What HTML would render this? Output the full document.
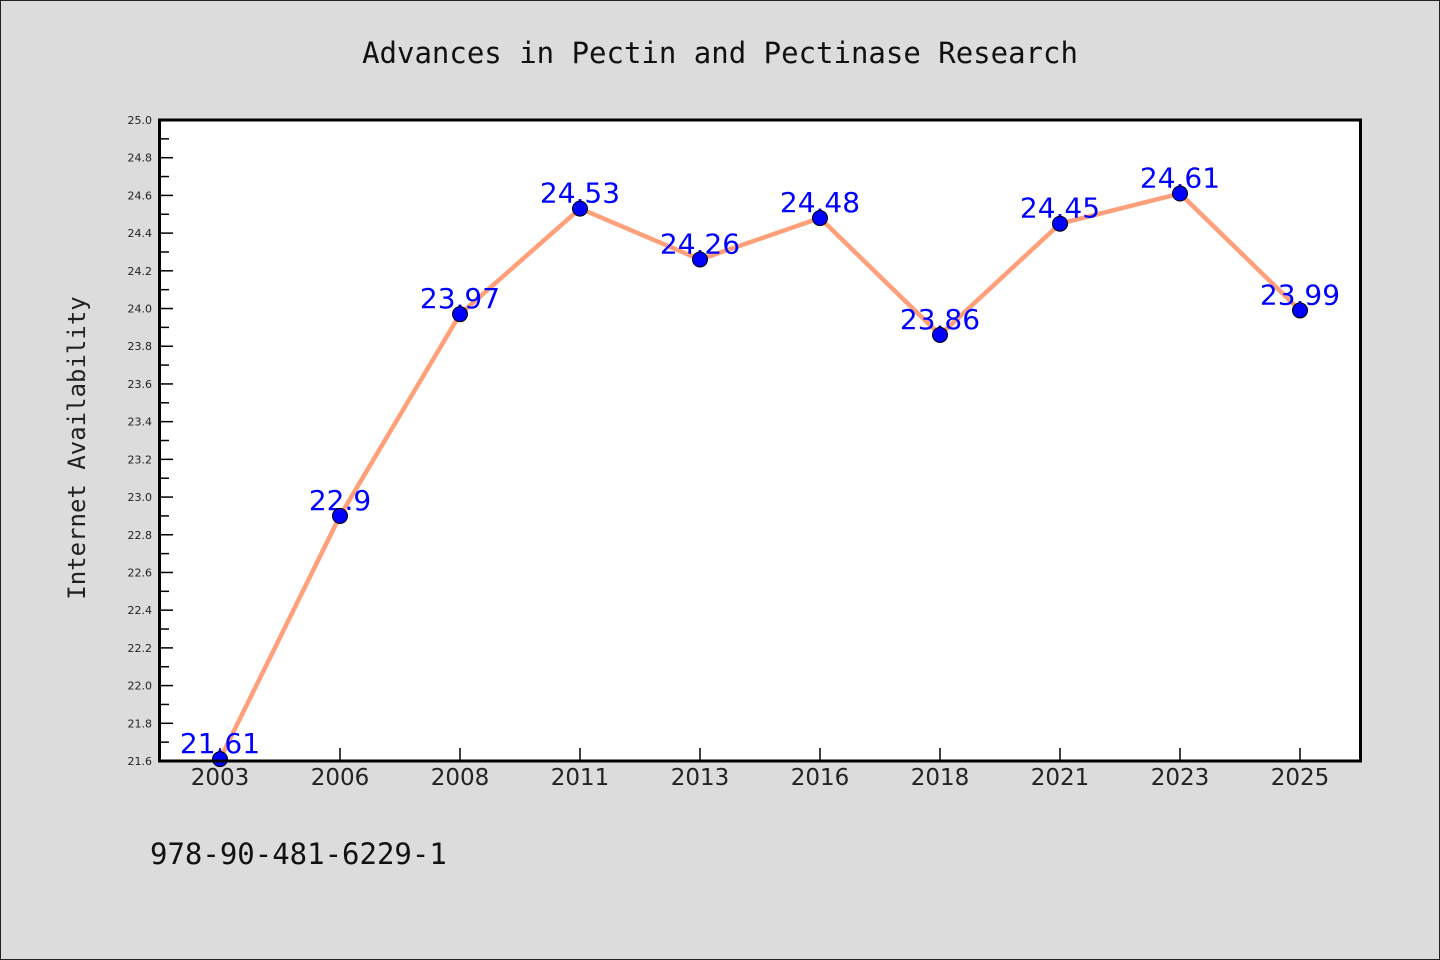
<!DOCTYPE html>
<html><head><meta charset="utf-8"><style>
body{margin:0;background:#dcdcdc;}
svg{display:block;}
</style></head><body>
<svg width="1440" height="960" xmlns="http://www.w3.org/2000/svg">
<rect x="0.5" y="0.5" width="1439" height="959" fill="#dcdcdc" stroke="#222"/>
<text x="720" y="63" text-anchor="middle" font-family="'DejaVu Sans Mono','Liberation Mono',monospace" font-size="29" fill="#111">Advances in Pectin and Pectinase Research</text>
<rect x="159.5" y="120" width="1201" height="641" fill="#fff"/>
<g id="axes"></g>
<g id="series"></g>
<rect x="159.5" y="120" width="1201" height="641" fill="none" stroke="#000" stroke-width="3"/>
<text transform="translate(85,448) rotate(-90)" text-anchor="middle" font-family="'DejaVu Sans Mono','Liberation Mono',monospace" font-size="24" fill="#222">Internet Availability</text>
<text x="150" y="864" font-family="'DejaVu Sans Mono','Liberation Mono',monospace" font-size="29" fill="#111">978-90-481-6229-1</text>
</svg>
<script>
const categories=["2003","2006","2008","2011","2013","2016","2018","2021","2023","2025"];
const values=[21.61,22.9,23.97,24.53,24.26,24.48,23.86,24.45,24.61,23.99];
const valueLabels=["21.61","22.9","23.97","24.53","24.26","24.48","23.86","24.45","24.61","23.99"];
const yTicks=[21.6,21.8,22.0,22.2,22.4,22.6,22.8,23.0,23.2,23.4,23.6,23.8,24.0,24.2,24.4,24.6,24.8,25.0];
const yMin=21.6,yMax=25.0;
const NS="http://www.w3.org/2000/svg";
const L=160,R=1360,T=120,B=761;
function y(v){return B-(v-yMin)/(yMax-yMin)*(B-T);}
function x(i){return 220+i*(1080/(categories.length-1));}
function mk(tag,attrs,parent){const e=document.createElementNS(NS,tag);for(const k in attrs)e.setAttribute(k,attrs[k]);parent.appendChild(e);return e;}
const ax=document.getElementById('axes'),se=document.getElementById('series');
yTicks.forEach((t,i)=>{
  const l=mk('line',{x1:L,x2:L+13,y1:y(t),y2:y(t),stroke:'#000','stroke-width':1.5},ax);
  
  
  const tx=mk('text',{x:152,y:y(t)+4,'text-anchor':'end','font-family':"'DejaVu Sans','Liberation Sans',sans-serif",'font-size':11,fill:'#222'},ax);
  tx.textContent=t.toFixed(1);
  
  
  if(i<yTicks.length-1){
    const m=mk('line',{x1:L,x2:L+9,y1:y(t+0.1),y2:y(t+0.1),stroke:'#000','stroke-width':1.5},ax);
    
    
  }
});
categories.forEach((c,i)=>{
  const l=mk('line',{x1:x(i),x2:x(i),y1:B,y2:B-13,stroke:'#000','stroke-width':1.5},ax);
  
  
  const tx=mk('text',{x:x(i),y:785,'text-anchor':'middle','font-family':"'DejaVu Sans','Liberation Sans',sans-serif",'font-size':23,fill:'#222'},ax);
  tx.textContent=c;
  
  
});
const pl=mk('polyline',{points:values.map((v,i)=>x(i)+','+y(v)).join(' '),fill:'none',stroke:'#ffa07a','stroke-width':4.5,'stroke-linejoin':'round'},se);


values.forEach((v,i)=>{
  const tx=mk('text',{x:x(i),y:y(v)-6,'text-anchor':'middle','font-family':"'DejaVu Sans','Liberation Sans',sans-serif",'font-size':28,fill:'#0000ff'},se);
  tx.textContent=valueLabels[i];
  
  
});
values.forEach((v,i)=>{
  const c=mk('circle',{cx:x(i),cy:y(v),r:7.5,fill:'#0000ff',stroke:'#000','stroke-width':1},se);
  
  
});
</script>
</body></html>
